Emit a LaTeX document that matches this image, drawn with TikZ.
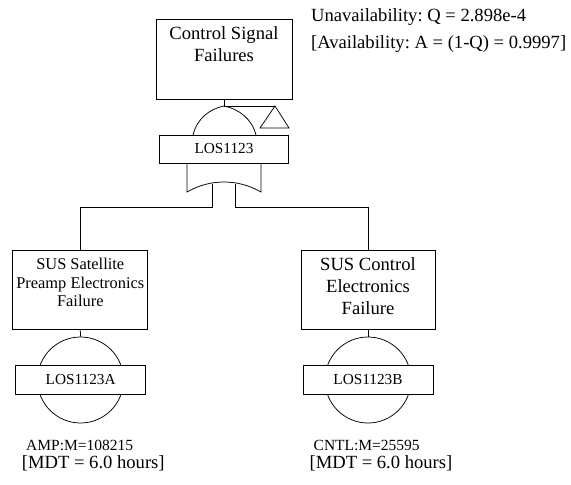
\documentclass[tikz,border=0pt]{standalone}
\usepackage{fontspec}
\setmainfont{Liberation Serif}
\usetikzlibrary{positioning}
\frenchspacing

\begin{document}
\begin{tikzpicture}[x=1pt,y=-1pt,line width=0.75pt,
    evbox/.style={draw,minimum width=#1,minimum height=79,inner sep=0},
    idbox/.style={draw,fill=white,minimum width=130,minimum height=29,inner sep=0,
      font=\fontsize{15.3}{18}\selectfont},
    evtext/.style={align=center,inner sep=0,anchor=north},
    bigfont/.style={font=\fontsize{18.6}{22.2}\selectfont},
    note/.style={inner sep=0,bigfont}]
  \useasboundingbox (0,0) rectangle (571,485);
  \node[note,anchor=base west] (unav) at (310.7,21.7) {Unavailability: Q = 2.898e-4};
  \node[note,anchor=base west] (avail) at (310.7,48.3) {[Availability: A = (1-Q) = 0.9997]};
  \node[evbox=136,minimum height=80] (top) at (224,59) {};
  \node[evtext,bigfont,below=7.6pt of top.north] (toptxt) {Control Signal\\Failures};
  \node[idbox,minimum width=129,minimum height=28] (g1) at (224,149) {LOS1123};
  \coordinate (gtop) at (224,106);
  \coordinate (tri) at (275,106);
  \draw (193,135) .. controls (197,119) and (209,109) .. (gtop)
    .. controls (239,109) and (252,119) .. (256,135);
  \draw (187,163) -- (187,192) .. controls (199,185) and (212,182) .. (224,182)
    .. controls (236,182) and (249,185) .. (261,192) -- (261,163);
  \draw (top.south) -- (gtop) -- (tri);
  \draw (tri) -- ++(-15,22) -- ++(29,0) -- cycle;
  \node[evbox=135] (e1) at (80.3,289.5) {};
  \node[evtext,font=\fontsize{16.4}{18.7}\selectfont,below=8.1pt of e1.north] (e1txt)
    {SUS Satellite\\Preamp Electronics\\Failure};
  \node[evbox=134] (e2) at (368,289.5) {};
  \node[evtext,font=\fontsize{18.6}{21.7}\selectfont,below=8pt of e2.north] (e2txt)
    {SUS Control\\Electronics\\Failure};
  \coordinate (gl) at (212.5,184);
  \coordinate (gr) at (235.5,184);
  \coordinate (bus) at (0,207);
  \draw (gl) -- (gl |- bus) -| (e1.north);
  \draw (gr) -- (gr |- bus) -| (e2.north);
  \node[circle,draw,minimum size=86,inner sep=0] (c1) at (80.5,380) {};
  \node[circle,draw,minimum size=86,inner sep=0] (c2) at (368,380) {};
  \draw (e1.south) -- (c1.north);
  \draw (e2.south) -- (c2.north);
  \node[idbox] (b1) at (80.7,379.5) {LOS1123A};
  \node[idbox] (b2) at (368,379.5) {LOS1123B};
  \node[inner sep=0,anchor=base,font=\fontsize{15.5}{18}\selectfont] (m1) at (79.7,450.7) {AMP:M=108215};
  \node[inner sep=0,anchor=base,font=\fontsize{15.5}{18}\selectfont] (m2) at (366.7,450.7) {CNTL:M=25595};
  \node[note,anchor=base] (t1) at (93.3,468.3) {[MDT = 6.0 hours]};
  \node[note,anchor=base] (t2) at (381,468.3) {[MDT = 6.0 hours]};
\end{tikzpicture}
\end{document}
